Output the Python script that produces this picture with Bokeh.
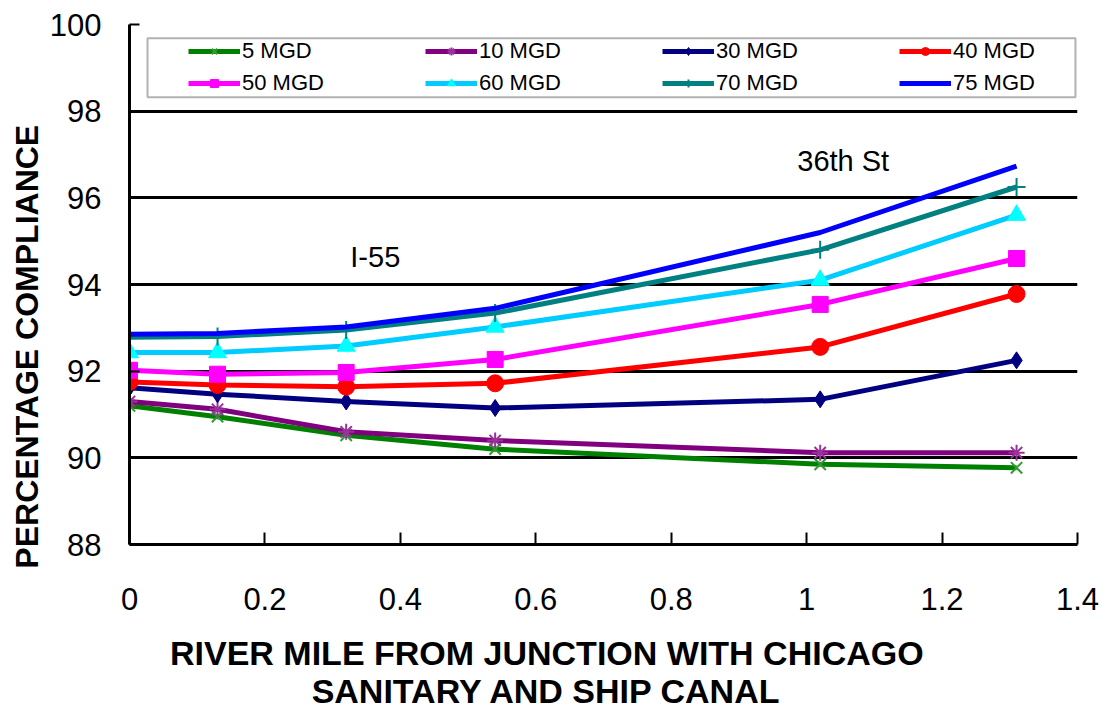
import math
from bokeh.plotting import figure
from bokeh.models import Range1d, FixedTicker, Legend, LegendItem, Label, BoxAnnotation
from bokeh.embed import file_html
from bokeh.resources import INLINE

river_mile = [0, 0.13, 0.32, 0.54, 1.02, 1.31]

mgd_5 = [91.2, 90.95, 90.52, 90.2, 89.85, 89.77]
mgd_10 = [91.3, 91.12, 90.6, 90.4, 90.12, 90.12]
mgd_30 = [91.62, 91.47, 91.3, 91.15, 91.35, 92.25]
mgd_40 = [91.75, 91.68, 91.64, 91.72, 92.56, 93.78]
mgd_50 = [92.02, 91.93, 91.97, 92.27, 93.54, 94.6]
mgd_60 = [92.43, 92.43, 92.58, 93.02, 94.1, 95.6]
mgd_70 = [92.78, 92.8, 92.95, 93.34, 94.8, 96.25]
mgd_75 = [92.85, 92.87, 93.02, 93.45, 95.2, 96.73]

series_names = ["5 MGD", "10 MGD", "30 MGD", "40 MGD", "50 MGD", "60 MGD", "70 MGD", "75 MGD"]
series_values = [mgd_5, mgd_10, mgd_30, mgd_40, mgd_50, mgd_60, mgd_70, mgd_75]
line_colors = ["#008000", "#800080", "#000080", "#FF0000", "#FF00FF", "#00CCFF", "#008080", "#0000FF"]
marker_colors = ["#339933", "#993399", "#000080", "#FF0000", "#FF00FF", "#00FFFF", "#008080", "#0000FF"]
markers = ["x", "asterisk", "diamond", "circle", "square", "triangle", "cross", None]
marker_sizes = [16, 16, 17, 17, 16, 18, 18, 0]

y_ticks = [88, 90, 92, 94, 96, 98, 100]
grid_ticks = [90, 92, 94, 96, 98]
x_ticks = [0, 0.2, 0.4, 0.6, 0.8, 1.0, 1.2, 1.4]

x_title_lines = ["RIVER MILE FROM JUNCTION WITH CHICAGO", "SANITARY AND SHIP CANAL"]
y_title = "PERCENTAGE COMPLIANCE"

FONT = "Liberation Sans"
NB = "\u00a0"

p = figure(width=1109, height=712, output_backend="svg", toolbar_location=None,
           x_range=Range1d(0, 1.4), y_range=Range1d(88, 100),
           min_border_left=129, min_border_right=32, min_border_top=24, min_border_bottom=167)
p.outline_line_color = None
p.background_fill_color = "white"

# axes
p.xaxis.ticker = FixedTicker(ticks=x_ticks)
p.yaxis.ticker = FixedTicker(ticks=y_ticks)
p.xaxis.major_label_overrides = {0: "0", 1.0: "1"}
for ax in (p.xaxis, p.yaxis):
    ax.axis_line_color = "black"
    ax.axis_line_width = 3
    ax.major_tick_line_color = "black"
    ax.major_tick_line_width = 2
    ax.minor_tick_line_color = None
    ax.major_tick_out = 0
    ax.major_label_text_font = FONT
    ax.major_label_text_font_size = "31px"
    ax.major_label_text_color = "black"
    ax.axis_label_text_font = FONT
    ax.axis_label_text_font_style = "bold"
    ax.axis_label_text_color = "black"
p.xaxis.major_tick_in = 12
p.yaxis.major_tick_in = 10
p.xaxis.major_label_standoff = 43
p.yaxis.major_label_standoff = 28

p.xaxis.axis_label = "\n".join(line + NB * 12 for line in x_title_lines)
p.xaxis.axis_label_text_font_size = "34px"
p.xaxis.axis_label_text_line_height = 1.0
p.xaxis.axis_label_standoff = 21
p.yaxis.axis_label = y_title + NB * 14
p.yaxis.axis_label_text_font_size = "32px"
p.yaxis.axis_label_standoff = 2

p.xgrid.grid_line_color = None
p.ygrid.ticker = FixedTicker(ticks=grid_ticks)
p.ygrid.grid_line_color = "black"
p.ygrid.grid_line_width = 3

# legend frame
p.add_layout(BoxAnnotation(left=0.0266, right=1.397, top=99.68, bottom=98.32,
                           fill_color="white", fill_alpha=1.0, line_color="black", line_width=2))

items = []
for name, vals, lc, mc, mk, ms in zip(series_names, series_values, line_colors, marker_colors, markers, marker_sizes):
    r_line = p.line(river_mile, vals, line_color=lc, line_width=5)
    rs = [r_line]
    if mk is not None:
        if mk in ("x", "asterisk", "cross"):
            r_m = p.scatter(river_mile, vals, marker=mk, size=ms, line_color=mc, line_width=2, fill_color=mc)
        else:
            r_m = p.scatter(river_mile, vals, marker=mk, size=ms, line_color=mc, fill_color=mc, line_width=1)
        rs.append(r_m)
    items.append(LegendItem(label=name, renderers=rs))

legend = Legend(items=items, ncols=4, orientation="horizontal",
                location=(59, 448), padding=0, spacing=6, margin=0,
                glyph_width=52, glyph_height=20, label_standoff=2, label_width=177, label_height=24,
                label_text_font=FONT, label_text_font_size="22px", label_text_color="black",
                border_line_color=None, background_fill_alpha=0.0)
p.add_layout(legend, "center")

# annotations
p.add_layout(Label(x=1.054, y=96.84, text="36th St", text_font=FONT, text_font_size="29px",
                   text_align="center", text_baseline="middle", text_color="black"))
p.add_layout(Label(x=0.363, y=94.63, text="I-55", text_font=FONT, text_font_size="29px",
                   text_align="center", text_baseline="middle", text_color="black"))

open("out.html", "w").write(file_html(p, INLINE))
